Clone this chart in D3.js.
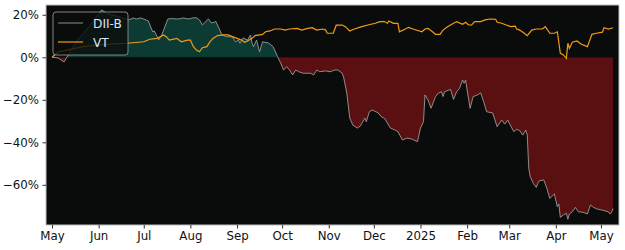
<!DOCTYPE html>
<html><head><meta charset="utf-8">
<script src="https://cdn.jsdelivr.net/npm/d3@7"></script>
<style>body{margin:0;background:#fff}svg{display:block}text{font-family:"DejaVu Sans",sans-serif}</style>
</head><body>
<svg id="c" width="625" height="250"></svg>
<script>
const diiDates = ["2024-05-01","2024-05-05","2024-05-09","2024-05-13","2024-05-18","2024-05-25","2024-05-30","2024-06-03","2024-06-07","2024-06-13","2024-06-17","2024-06-21","2024-06-24","2024-06-26","2024-06-29","2024-07-01","2024-07-04","2024-07-07","2024-07-08","2024-07-11","2024-07-13","2024-07-14","2024-07-17","2024-07-19","2024-07-24","2024-07-27","2024-07-31","2024-08-03","2024-08-05","2024-08-07","2024-08-09","2024-08-13","2024-08-15","2024-08-18","2024-08-19","2024-08-22","2024-08-25","2024-08-29","2024-08-31","2024-09-02","2024-09-03","2024-09-05","2024-09-08","2024-09-10","2024-09-11","2024-09-12","2024-09-14","2024-09-16","2024-09-18","2024-09-22","2024-09-25","2024-09-28","2024-09-30","2024-10-02","2024-10-04","2024-10-06","2024-10-08","2024-10-10","2024-10-12","2024-10-15","2024-10-20","2024-10-22","2024-10-24","2024-10-26","2024-10-30","2024-11-02","2024-11-05","2024-11-07","2024-11-10","2024-11-11","2024-11-13","2024-11-15","2024-11-17","2024-11-20","2024-11-22","2024-11-25","2024-11-26","2024-11-28","2024-11-30","2024-12-04","2024-12-06","2024-12-08","2024-12-12","2024-12-15","2024-12-17","2024-12-20","2024-12-23","2024-12-26","2024-12-30","2025-01-01","2025-01-03","2025-01-04","2025-01-06","2025-01-08","2025-01-11","2025-01-13","2025-01-15","2025-01-16","2025-01-17","2025-01-21","2025-01-23","2025-01-25","2025-01-27","2025-01-29","2025-01-30","2025-01-31","2025-02-01","2025-02-03","2025-02-05","2025-02-08","2025-02-10","2025-02-12","2025-02-14","2025-02-18","2025-02-21","2025-02-24","2025-02-26","2025-02-28","2025-03-04","2025-03-06","2025-03-08","2025-03-10","2025-03-12","2025-03-13","2025-03-14","2025-03-15","2025-03-17","2025-03-19","2025-03-20","2025-03-21","2025-03-24","2025-03-26","2025-03-28","2025-03-31","2025-04-02","2025-04-03","2025-04-04","2025-04-06","2025-04-08","2025-04-09","2025-04-10","2025-04-12","2025-04-14","2025-04-16","2025-04-19","2025-04-22","2025-04-24","2025-04-26","2025-04-29","2025-05-02","2025-05-06","2025-05-07","2025-05-08","2025-05-09"];
const diiValues = [0,-0.3,-2.2,2.5,8.1,13.8,18.5,22.3,20.4,19.4,18.5,17.6,18.5,18.0,18.5,18.0,17.1,11.9,12.4,8.1,10.5,12.4,18.0,18.2,18.0,18.5,18.0,18.6,18.6,17.6,15.2,18.0,16.1,16.8,15.2,10.5,9.7,9.6,7.3,8.1,6.6,9.1,8.1,10.5,6.7,5.0,8.1,2.6,7.3,6.7,5.0,0.3,-2.7,-6.0,-4.4,-6.0,-8.3,-6.0,-6.8,-7.5,-7.5,-8.3,-6.0,-6.8,-6.4,-6.8,-6.0,-6.0,-7.5,-9.7,-16.8,-28.6,-31.9,-33.3,-32.3,-28.6,-30.3,-25.6,-24.8,-26.2,-28.0,-28.6,-33.3,-34.2,-35.0,-38.9,-38.0,-38.4,-39.7,-33.3,-30.3,-17.7,-20.1,-24.0,-18.5,-16.8,-16.2,-18.5,-16.2,-15.1,-19.8,-16.2,-14.6,-10.7,-12.2,-10.7,-15.4,-24.0,-18.5,-17.7,-16.7,-20.9,-25.6,-26.2,-32.7,-29.5,-31.4,-29.5,-35.0,-33.9,-34.5,-36.6,-34.2,-36.6,-52.2,-56.2,-59.3,-61.2,-59.3,-58.1,-57.7,-61.6,-66.4,-64.3,-70.3,-69.0,-75.3,-74.2,-73.4,-76.2,-73.7,-72.7,-70.6,-72.7,-72.9,-73.7,-69.5,-70.6,-71.5,-71.9,-72.7,-73.7,-73.1,-71.1];
const vtDates = ["2024-05-01","2024-05-05","2024-05-11","2024-05-22","2024-06-02","2024-06-12","2024-06-20","2024-07-01","2024-07-05","2024-07-10","2024-07-14","2024-07-16","2024-07-18","2024-07-23","2024-07-26","2024-07-30","2024-08-01","2024-08-03","2024-08-05","2024-08-07","2024-08-09","2024-08-12","2024-08-14","2024-08-16","2024-08-19","2024-08-23","2024-08-26","2024-08-29","2024-09-01","2024-09-04","2024-09-06","2024-09-08","2024-09-11","2024-09-13","2024-09-18","2024-09-20","2024-09-23","2024-09-26","2024-09-30","2024-10-03","2024-10-06","2024-10-11","2024-10-14","2024-10-18","2024-10-21","2024-10-24","2024-10-28","2024-10-30","2024-10-31","2024-11-04","2024-11-06","2024-11-10","2024-11-12","2024-11-15","2024-11-18","2024-11-23","2024-11-27","2024-12-02","2024-12-05","2024-12-08","2024-12-10","2024-12-11","2024-12-14","2024-12-17","2024-12-18","2024-12-22","2024-12-24","2024-12-27","2025-01-02","2025-01-04","2025-01-06","2025-01-09","2025-01-11","2025-01-14","2025-01-16","2025-01-19","2025-01-23","2025-01-25","2025-01-29","2025-01-31","2025-02-02","2025-02-04","2025-02-06","2025-02-10","2025-02-13","2025-02-16","2025-02-20","2025-02-21","2025-02-24","2025-02-27","2025-03-02","2025-03-05","2025-03-06","2025-03-08","2025-03-11","2025-03-13","2025-03-16","2025-03-19","2025-03-23","2025-03-25","2025-03-28","2025-03-31","2025-04-02","2025-04-04","2025-04-06","2025-04-08","2025-04-09","2025-04-10","2025-04-12","2025-04-15","2025-04-18","2025-04-22","2025-04-25","2025-04-28","2025-05-02","2025-05-03","2025-05-06","2025-05-09"];
const vtValues = [0,2.5,3.4,5.0,5.8,6.3,6.6,7.3,8.5,8.9,10.5,9.7,8.1,8.9,7.3,8.1,8.1,5.0,3.4,2.6,4.5,5.0,7.3,8.9,10.2,10.5,10.5,9.7,8.9,8.1,7.1,7.7,8.9,10.2,10.8,12.0,12.4,13.3,13.3,12.8,13.3,13.6,12.8,13.6,13.9,12.8,13.3,12.8,11.3,11.3,15.1,15.2,14.4,12.4,13.3,14.4,15.2,16.0,16.8,16.8,16.0,17.1,16.0,16.0,12.0,13.3,14.1,13.3,12.0,13.3,13.6,12.0,10.8,10.8,12.8,14.4,16.0,16.8,15.5,16.5,15.2,15.2,16.8,16.8,17.6,18.0,17.9,16.5,16.0,15.2,14.4,14.7,13.3,12.8,11.3,10.2,12.8,13.3,13.3,14.4,11.3,11.3,12.0,1.9,1.1,-0.5,6.6,4.2,7.1,7.7,6.1,5.0,10.8,11.3,11.8,13.9,13.3,13.9];
const yTicks = [20, 0, -20, -40, -60];
const seriesNames = ["DII-B", "VT"];

const parse = d3.utcParse("%Y-%m-%d");
const dii = diiDates.map((d,i)=>({date:parse(d), v:diiValues[i]}));
const vt = vtDates.map((d,i)=>({date:parse(d), v:vtValues[i]}));

const svg = d3.select("#c");
const L=46, R=619, T=5, B=225;
const x = d3.scaleUtc().domain([parse("2024-04-27"), parse("2025-05-13")]).range([L,R]);
const y = d3.scaleLinear().domain([-78.9, 24.6]).range([B,T]);

svg.append("rect").attr("x",L).attr("y",T).attr("width",R-L).attr("height",B-T).attr("fill","#0a0c0c");

const defs = svg.append("defs");
defs.append("clipPath").attr("id","pos").append("rect").attr("x",L).attr("y",T).attr("width",R-L).attr("height",y(0)-T);
defs.append("clipPath").attr("id","neg").append("rect").attr("x",L).attr("y",y(0)).attr("width",R-L).attr("height",B-y(0));

const area = d3.area().x(d=>x(d.date)).y0(y(0)).y1(d=>y(d.v));
svg.append("path").datum(dii).attr("d",area).attr("fill","#0b3b32").attr("clip-path","url(#pos)");
svg.append("path").datum(dii).attr("d",area).attr("fill","#5a0f10").attr("clip-path","url(#neg)");

const line = d3.line().x(d=>x(d.date)).y(d=>y(d.v));
svg.append("path").datum(dii).attr("d",line).attr("fill","none").attr("stroke","#9a9a9a").attr("stroke-width",0.9);
svg.append("path").datum(vt).attr("d",line).attr("fill","none").attr("stroke","#f39c12").attr("stroke-width",1.2);

// frame
svg.append("rect").attr("x",L).attr("y",T).attr("width",R-L).attr("height",B-T).attr("fill","none").attr("stroke","#bfbfbf").attr("stroke-width",1);

const fmtY = v => (v<0 ? "\u2212"+Math.abs(v) : v) + "%";
const yAxis = d3.axisLeft(y).tickValues(yTicks).tickFormat(fmtY).tickSize(3.5).tickPadding(3.5);
const gy = svg.append("g").attr("transform",`translate(${L},0)`).call(yAxis);
gy.select(".domain").remove();
gy.selectAll("line").attr("stroke","#333");
gy.selectAll("text").attr("font-size",11.8).attr("fill","#111").attr("font-family","DejaVu Sans");

const fmtX = d => d.getUTCMonth()===0 ? d3.utcFormat("%Y")(d) : d3.utcFormat("%b")(d);
const xAxis = d3.axisBottom(x).ticks(d3.utcMonth.every(1)).tickFormat(fmtX).tickSize(3.5).tickPadding(3.5);
const gx = svg.append("g").attr("transform",`translate(0,${B})`).call(xAxis);
gx.select(".domain").remove();
gx.selectAll("line").attr("stroke","#333");
gx.selectAll("text").attr("font-size",11.8).attr("fill","#111").attr("font-family","DejaVu Sans");

// legend
const lg = svg.append("g");
lg.append("rect").attr("x",53).attr("y",12).attr("width",75).attr("height",43).attr("rx",3)
  .attr("fill","#0a0c0c").attr("fill-opacity",0.8).attr("stroke","#a0a0a0").attr("stroke-width",0.8);
const lcol = ["#9a9a9a","#f39c12"];
seriesNames.forEach((n,i)=>{
  const yy = 23 + i*19;
  lg.append("line").attr("x1",58).attr("x2",83).attr("y1",yy).attr("y2",yy).attr("stroke",lcol[i]).attr("stroke-width",i?1.2:0.9);
  lg.append("text").attr("x",93).attr("y",yy+4.5).attr("font-size",12.2).attr("fill","#d8e4f4").text(n);
});
</script>
</body></html>
